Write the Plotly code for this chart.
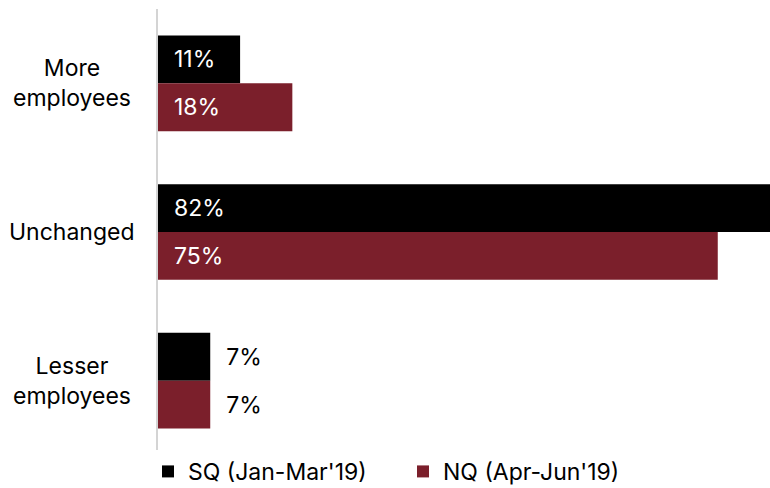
import plotly.graph_objects as go

categories = ["More employees", "Unchanged", "Lesser employees"]
sq_values = [11, 82, 7]
nq_values = [18, 75, 7]
series_names = ["SQ (Jan-Mar'19)", "NQ (Apr-Jun'19)"]
category_labels = ["More<br>employees", "Unchanged", "Lesser<br>employees"]

FONT = "Inter"
FS = 23
W, H = 770, 488
ML, MT, MB = 158, 8.5, 32.5
plot_w = W - ML
plot_h = H - MT - MB

colors = ["#000000", "#7b1f2b"]


def positions(vals):
    return ["outside" if v < 10 else "inside" for v in vals]


fig = go.Figure()
for name, vals, col in zip(series_names, [sq_values, nq_values], colors):
    fig.add_trace(go.Bar(
        y=categories,
        x=vals,
        name=name,
        orientation="h",
        marker=dict(color=col, line=dict(width=0)),
        text=[f"\u00a0\u00a0{v}%" for v in vals],
        textposition=positions(vals),
        insidetextanchor="start",
        insidetextfont=dict(color="white", family=FONT, size=FS),
        outsidetextfont=dict(color="black", family=FONT, size=FS),
        cliponaxis=False,
    ))

# centered multi-line category labels to the left of the axis
for cat, lab in zip(categories, category_labels):
    fig.add_annotation(
        x=(72 - ML) / plot_w, xref="paper",
        y=cat, yref="y",
        text=lab, showarrow=False,
        xanchor="center", yanchor="middle", align="center",
        font=dict(family=FONT, size=FS, color="black"),
    )

fig.update_layout(
    width=W, height=H,
    margin=dict(l=ML, r=0, t=MT, b=MB, pad=0, autoexpand=False),
    paper_bgcolor="white", plot_bgcolor="white",
    barmode="group",
    bargap=0.356, bargroupgap=0,
    font=dict(family=FONT, size=FS, color="black"),
    showlegend=True,
    legend=dict(
        orientation="h",
        x=(148 - ML) / plot_w, xanchor="left",
        y=-(472 - (H - MB)) / plot_h, yanchor="middle",
        entrywidth=210, entrywidthmode="pixels",
        font=dict(family=FONT, size=FS, color="black"),
        itemclick=False, itemdoubleclick=False,
        traceorder="normal",
    ),
    uniformtext=dict(mode=False),
)
fig.update_xaxes(range=[0, 82], visible=False, showgrid=False, zeroline=False)
fig.update_yaxes(
    categoryorder="array", categoryarray=categories,
    autorange="reversed",
    showticklabels=False, ticks="",
    showline=True, linecolor="#d4d4d4", linewidth=1.5,
    showgrid=False, zeroline=False,
)

fig.write_html("out.html")
